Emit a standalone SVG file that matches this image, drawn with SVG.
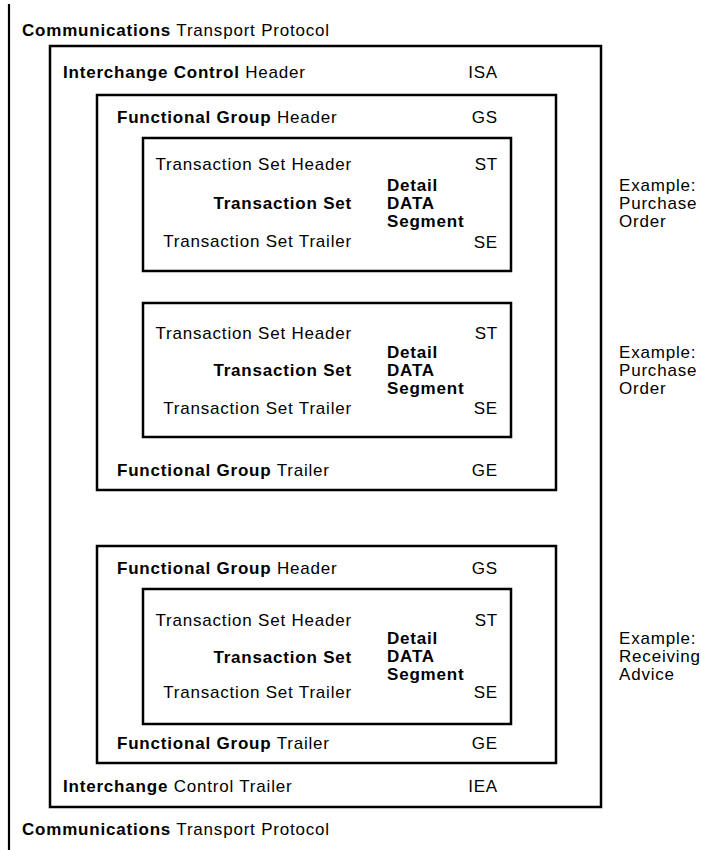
<svg xmlns="http://www.w3.org/2000/svg" width="701" height="850" viewBox="0 0 701 850">
<style>
text{font-family:"Liberation Sans",Arial,Helvetica,sans-serif;font-size:17px;fill:#000;letter-spacing:0.8px}
.b{font-weight:bold}
.e{text-anchor:end}
.box{fill:none;stroke:#000;stroke-width:2.5}
</style>
<rect width="701" height="850" fill="#fff"/>
<g id="comm-protocol">
<line x1="9" y1="4" x2="9" y2="850" stroke="#000" stroke-width="2.2"/>
<text x="22" y="36"><tspan class="b">Communications</tspan> Transport Protocol</text>
<text x="22" y="835"><tspan class="b">Communications</tspan> Transport Protocol</text>
</g>
<g id="interchange">
<rect class="box" x="50" y="46" width="551" height="761"/>
<text x="63" y="78"><tspan class="b">Interchange Control</tspan> Header</text>
<text class="e" x="498" y="78">ISA</text>
<text x="63" y="792"><tspan class="b">Interchange</tspan> Control Trailer</text>
<text class="e" x="498" y="792">IEA</text>
</g>
<g id="group1">
<rect class="box" x="97" y="95" width="459" height="395"/>
<text x="117" y="123"><tspan class="b">Functional Group</tspan> Header</text>
<text class="e" x="498" y="123">GS</text>
<text x="117" y="476"><tspan class="b">Functional Group</tspan> Trailer</text>
<text class="e" x="498" y="476">GE</text>
</g>
<g id="ts1">
<rect class="box" x="143" y="138" width="368" height="133"/>
<text class="e" x="352" y="170">Transaction Set Header</text>
<text class="e b" x="352" y="209">Transaction Set</text>
<text class="e" x="352" y="247">Transaction Set Trailer</text>
<text class="e" x="498" y="170">ST</text>
<text class="b" x="387" y="191">Detail</text>
<text class="b" x="387" y="209">DATA</text>
<text class="b" x="387" y="227">Segment</text>
<text class="e" x="498" y="248">SE</text>
</g>
<g id="example1">
<text x="619" y="191">Example:</text>
<text x="619" y="209">Purchase</text>
<text x="619" y="227">Order</text>
</g>
<g id="ts2">
<rect class="box" x="143" y="303" width="368" height="134"/>
<text class="e" x="352" y="339">Transaction Set Header</text>
<text class="e b" x="352" y="376">Transaction Set</text>
<text class="e" x="352" y="414">Transaction Set Trailer</text>
<text class="e" x="498" y="339">ST</text>
<text class="b" x="387" y="358">Detail</text>
<text class="b" x="387" y="376">DATA</text>
<text class="b" x="387" y="394">Segment</text>
<text class="e" x="498" y="414">SE</text>
</g>
<g id="example2">
<text x="619" y="358">Example:</text>
<text x="619" y="376">Purchase</text>
<text x="619" y="394">Order</text>
</g>
<g id="group2">
<rect class="box" x="97" y="546" width="459" height="217"/>
<text x="117" y="574"><tspan class="b">Functional Group</tspan> Header</text>
<text class="e" x="498" y="574">GS</text>
<text x="117" y="749"><tspan class="b">Functional Group</tspan> Trailer</text>
<text class="e" x="498" y="749">GE</text>
</g>
<g id="ts3">
<rect class="box" x="143" y="589" width="368" height="135"/>
<text class="e" x="352" y="626">Transaction Set Header</text>
<text class="e b" x="352" y="663">Transaction Set</text>
<text class="e" x="352" y="698">Transaction Set Trailer</text>
<text class="e" x="498" y="626">ST</text>
<text class="b" x="387" y="644">Detail</text>
<text class="b" x="387" y="662">DATA</text>
<text class="b" x="387" y="680">Segment</text>
<text class="e" x="498" y="698">SE</text>
</g>
<g id="example3">
<text x="619" y="644">Example:</text>
<text x="619" y="662">Receiving</text>
<text x="619" y="680">Advice</text>
</g>
<g id="connectors"></g>
</svg>
